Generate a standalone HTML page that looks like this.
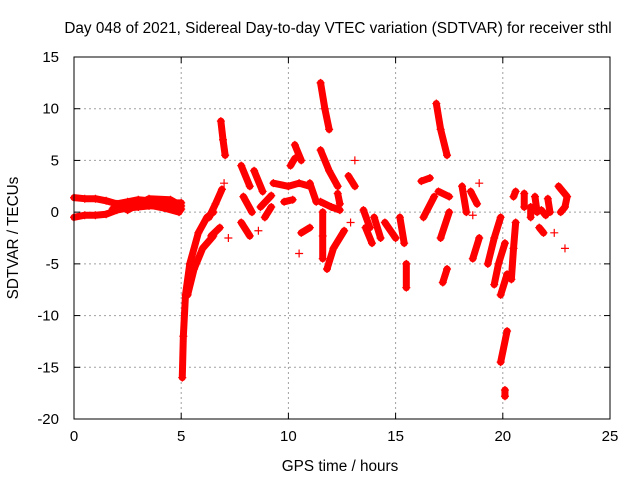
<!DOCTYPE html>
<html><head><meta charset="utf-8"><style>
body{margin:0;background:#fff}
svg{display:block;font-family:"Liberation Sans",sans-serif}
</style></head><body>
<svg id="chart" width="640" height="480">
<rect width="640" height="480" fill="#fff"/>
<g id="grid"></g>
<g id="marks"></g>
<rect x="74" y="57" width="536" height="362" fill="none" stroke="#000" stroke-width="1"/>
<g id="axes"></g>
<text x="338" y="33" text-anchor="middle" font-size="15.3">Day 048 of 2021, Sidereal Day-to-day VTEC variation (SDTVAR) for receiver sthl</text>
<text x="340" y="471" text-anchor="middle" font-size="15.3">GPS time / hours</text>
<text x="18" y="238" text-anchor="middle" font-size="15.3" transform="rotate(-90 18 238)">SDTVAR / TECUs</text>
</svg>
<script>
const xTicks=[0,5,10,15,20,25];
const yTicks=[15,10,5,0,-5,-10,-15,-20];
const xDomain=[0,25];
const yDomain=[-20,15];
const tracks=[
[[0,1.4],[0.5,1.3],[1,1.3],[1.5,1.1],[2,0.8],[2.5,1.0],[3,1.2],[3.5,1.1],[4,1.0],[4.5,0.9],[5,0.9]],
[[0,-0.5],[0.5,-0.3],[1,-0.3],[1.5,-0.2],[2,0.2],[2.5,0.4],[3,0.5],[3.5,0.6],[4,0.6],[4.5,0.5],[5,0.3]],
[[1.8,0.3],[2.4,0.9],[3.2,0.8],[4.2,0.4],[4.9,0.0]],
[[2.5,0.2],[3.5,1.3],[4.5,1.2],[5,0.6]],
[[5.05,-16],[5.1,-12],[5.2,-8],[5.4,-5],[5.8,-2],[6.2,-0.5],[6.5,0]],
[[5.3,-8],[5.6,-5.5],[6,-3.5],[6.5,-2.3]],
[[6.3,-0.5],[6.6,0.8],[6.9,2.2]],
[[6.85,8.8],[6.95,7],[7.05,5.5]],
[[7.0,2.8]],
[[7.8,4.5],[8.2,2.5]],[[8.4,4],[8.8,2]],[[7.9,1.5],[8.3,0]],
[[6.4,-2.3],[6.8,-1.5]],[[7.2,-2.5]],[[7.8,-1],[8.2,-2.3]],[[8.6,-1.8]],
[[8.7,0.5],[9.2,1.6]],[[8.9,-0.5],[9.2,0.5]],
[[9.3,2.8],[10.0,2.5],[10.5,2.8],[11,2.5]],
[[10.3,6.5],[10.6,5]],[[10.1,4.5],[10.3,5.2]],[[10.5,-4]],[[10.6,-2],[11,-1.5]],
[[9.8,1.0],[10.2,1.2]],[[11.0,2.8],[11.3,1.0]],
[[11.5,12.5],[11.7,10],[11.9,8]],
[[11.5,6],[11.9,4],[12.3,2.5]],
[[11.6,0],[11.6,-2.3],[11.6,-4.5]],
[[11.8,-5.5],[12.1,-3.5],[12.6,-1.8]],
[[11.5,1],[12.0,0.5],[12.4,0.2]],
[[12.3,1.8],[12.4,0.8]],
[[12.8,3.5],[13.1,2.5]],[[13.1,5.0]],[[12.9,-1]],
[[13.5,0.2],[13.8,-1.5]],[[14.0,-0.5],[14.3,-2.5]],[[13.6,-1.5],[13.9,-3]],
[[14.5,-1],[15,-2.5]],[[15.2,-0.5],[15.4,-3]],[[15.5,-5],[15.5,-7.3]],
[[16.2,3],[16.6,3.3]],[[16.3,-0.5],[16.8,1.5]],
[[16.9,10.5],[17.1,8],[17.4,5.5]],
[[17.0,2],[17.5,1.5]],[[17.1,-2.5],[17.5,0]],[[17.2,-6.8],[17.4,-5.5]],
[[18.1,2.5],[18.3,0]],[[18.5,2],[18.8,0.8]],[[18.6,-0.3]],[[18.9,2.8]],
[[18.6,-4.5],[18.9,-2.5]],
[[19.3,-5],[19.6,-2.5],[19.9,-0.5]],
[[19.6,-7],[19.8,-5],[20.1,-3]],
[[19.9,-8],[20.2,-6]],
[[19.9,-14.5],[20.2,-11.5]],[[20.1,-17.2],[20.1,-17.8]],
[[20.4,-6.5],[20.5,-3.5],[20.6,-1]],
[[20.5,1.5],[20.6,2]],[[21.0,1.8],[21.0,0.5]],[[21.3,0.5],[21.3,-0.5]],
[[21.5,1.5],[21.6,0]],[[21.8,0.2],[22,-0.3]],[[22.1,1.3],[22.2,0]],[[21.9,-2],[21.7,-1.5]],
[[22.4,-2]],[[22.6,2.5],[23,1.5],[22.9,0.5],[22.7,0]],[[22.9,-3.5]]
];
const NS='http://www.w3.org/2000/svg';
const L=74,R=610,T=57,B=419;
function sx(v){return L+(v-xDomain[0])/(xDomain[1]-xDomain[0])*(R-L);}
function sy(v){return B-(v-yDomain[0])/(yDomain[1]-yDomain[0])*(B-T);}
const grid=document.getElementById('grid'),axes=document.getElementById('axes'),marks=document.getElementById('marks');
function mk(tag,attrs,parent){const e=document.createElementNS(NS,tag);for(const k in attrs)e.setAttribute(k,attrs[k]);parent.appendChild(e);return e;}
xTicks.forEach(t=>{
  const x=sx(t);
  if(t>xDomain[0]&&t<xDomain[1]){const g=mk('line',{x1:x,x2:x,y1:T,y2:B,stroke:'#a0a0a0','stroke-dasharray':'2,3'},grid);
  
  }
  mk('line',{x1:x,x2:x,y1:B,y2:B-6,stroke:'#000'},axes);
  mk('line',{x1:x,x2:x,y1:T,y2:T+6,stroke:'#000'},axes);
  const tx=mk('text',{x:x,y:B+22,'text-anchor':'middle','font-size':15},axes);tx.textContent=t;
  
  
});
yTicks.forEach(t=>{
  const y=sy(t);
  if(t>yDomain[0]&&t<yDomain[1]){const g=mk('line',{x1:L,x2:R,y1:y,y2:y,stroke:'#a0a0a0','stroke-dasharray':'2,3'},grid);
  
  }
  mk('line',{x1:L,x2:L+6,y1:y,y2:y,stroke:'#000'},axes);
  mk('line',{x1:R,x2:R-6,y1:y,y2:y,stroke:'#000'},axes);
  const tx=mk('text',{x:L-15,y:y+5,'text-anchor':'end','font-size':15},axes);tx.textContent=t;
  
  
});
tracks.forEach(tr=>{
  if(tr.length>1){
    const p=mk('polyline',{points:tr.map(d=>sx(d[0])+','+sy(d[1])).join(' '),fill:'none',stroke:'#ff0000','stroke-width':7,'stroke-linecap':'round','stroke-linejoin':'round'},marks);
    
    
  }
  tr.forEach(d=>{
    const x=sx(d[0]),y=sy(d[1]);
    const m=mk('path',{d:`M${x-4},${y}H${x+4}M${x},${y-4}V${y+4}`,stroke:'#ff0000','stroke-width':1.2},marks);
    
    
  });
});
</script>
</body></html>
